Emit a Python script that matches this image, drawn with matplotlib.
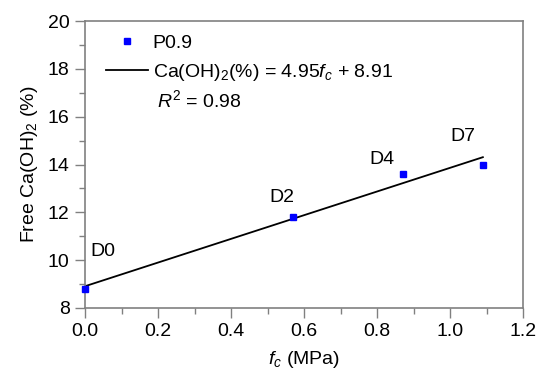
import matplotlib
matplotlib.use("Agg")
import matplotlib.pyplot as plt
import numpy as np

plt.rcParams["font.family"] = ["Liberation Sans", "DejaVu Sans"]
plt.rcParams["mathtext.fontset"] = "custom"
plt.rcParams["mathtext.rm"] = "Liberation Sans"
plt.rcParams["mathtext.it"] = "Liberation Sans:italic"

# data
fc = [0.0, 0.57, 0.87, 1.09]
caoh = [8.8, 11.8, 13.6, 14.0]
labels = ["D0", "D2", "D4", "D7"]
label_pos = [(0.015, 10.35), (0.505, 12.6), (0.78, 14.2), (1.0, 15.15)]
slope, intercept = 4.95, 8.91

FS = 14

fig = plt.figure(figsize=(5.38, 3.80), dpi=100)
ax = fig.add_axes([85 / 538, 1 - 308 / 380, 438 / 538, 287 / 380])

gray = "#808080"
xfit = np.array([fc[0], fc[-1]])
ax.plot(fc, caoh, "s", color="#0000ff", markersize=4, label="P0.9",
        clip_on=False, zorder=3)
ax.plot(xfit, slope * xfit + intercept, color="black", lw=1.3,
        label=r"Ca(OH)$_2$(%) = 4.95$\it{f}_c$ + 8.91")

for lab, (lx, ly) in zip(labels, label_pos):
    ax.text(lx, ly, lab, fontsize=FS, va="center", ha="left")

ax.set_xlim(0, 1.2)
ax.set_ylim(8, 20)
ax.set_xticks(np.arange(0, 1.21, 0.2))
ax.set_xticks(np.arange(0.1, 1.2, 0.2), minor=True)
ax.set_yticks(np.arange(8, 21, 2))
ax.set_yticks(np.arange(9, 20, 2), minor=True)
ax.set_xticklabels([f"{v:.1f}" for v in np.arange(0, 1.21, 0.2)])

for s in ax.spines.values():
    s.set_color(gray)
    s.set_linewidth(1.2)
ax.tick_params(which="both", direction="out", color=gray, width=1.0,
               labelsize=FS, pad=4)
ax.tick_params(which="major", length=7)
ax.tick_params(which="minor", length=4)

ax.set_xlabel(r"$\it{f}_c$ (MPa)", fontsize=FS, labelpad=6)
ax.set_ylabel(r"Free Ca(OH)$_2$ (%)", fontsize=FS, labelpad=6)

leg = ax.legend(loc="upper left", bbox_to_anchor=(0.048, 0.955), frameon=False,
                fontsize=FS, handlelength=2.15, handletextpad=0.25,
                borderaxespad=0, borderpad=0, labelspacing=0.55)
ax.text(0.164, 0.725, r"$\it{R}^2$ = 0.98", transform=ax.transAxes,
        fontsize=FS, va="center")

fig.savefig("out.png", dpi=100)
